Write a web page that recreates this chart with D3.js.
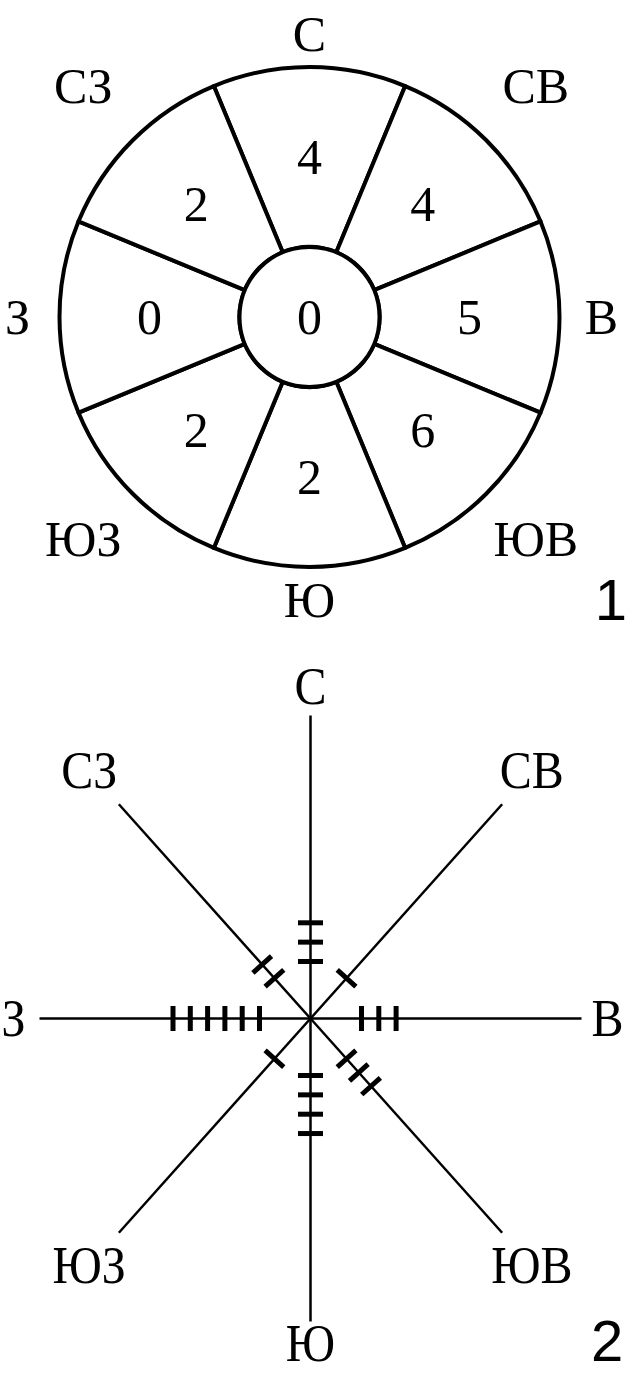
<!DOCTYPE html>
<html>
<head>
<meta charset="utf-8">
<script src="https://cdn.jsdelivr.net/npm/d3@7"></script>
<style>
  body { margin: 0; background: #fff; }
  text { font-family: "Liberation Serif", "DejaVu Serif", serif; fill: #000; }
  .fig-num { font-family: "Liberation Sans", Arial, sans-serif; }
</style>
</head>
<body>
<svg id="chart" width="628" height="1374"></svg>
<script>
// directions, clockwise from north
const directions = ["С", "СВ", "В", "ЮВ", "Ю", "ЮЗ", "З", "СЗ"];
// figure 1: wind rose values per sector, calm in the middle
const roseValues = [4, 4, 5, 6, 2, 2, 0, 2];
const calmValue = 0;
// figure 2: number of ticks on each ray
const tickCounts = [3, 1, 3, 3, 4, 1, 6, 2];
const figureLabels = ["1", "2"];

const W = 628, H = 1374;
const svg = d3.select("#chart");
svg.append("rect").attr("width", W).attr("height", H).attr("fill", "#fff");

let angle = d3.scaleLinear().domain([0, directions.length]).range([0, 2 * Math.PI]);

// ---------- Figure 1 ----------
let c1 = {x: 309.5, y: 317};
let inner = 70, outer = 250;

let g1 = svg.append("g").attr("transform", `translate(${c1.x}, ${c1.y})`);

let pie = d3.pie()
  .value(() => 1)
  .sort(null)
  .startAngle(-Math.PI / 8)
  .endAngle(2 * Math.PI - Math.PI / 8);

let arc = d3.arc().innerRadius(inner).outerRadius(outer);

let sectors = pie(roseValues);

g1.selectAll(".sector")
  .data(sectors)
  .join("path")
  .attr("class", "sector")
  .attr("d", arc)
  .attr("fill", "#fff")
  .attr("stroke", "#000")
  .attr("stroke-width", 4)
  .attr("stroke-linejoin", "round");

g1.append("circle")
  .attr("r", inner)
  .attr("fill", "#fff")
  .attr("stroke", "#000")
  .attr("stroke-width", 4);

g1.append("text")
  .attr("text-anchor", "middle")
  .attr("dy", "0.34em")
  .style("font-size", "50px")
  .text(calmValue);

let labelArc = d3.arc().innerRadius(inner + 20).outerRadius(outer - 20);
g1.selectAll(".val")
  .data(sectors)
  .join("text")
  .attr("class", "val")
  .attr("transform", d => `translate(${labelArc.centroid(d)})`)
  .attr("text-anchor", "middle")
  .attr("dy", "0.34em")
  .style("font-size", "50px")
  .text(d => d.data);

g1.selectAll(".dir")
  .data(directions)
  .join("text")
  .attr("class", "dir")
  .attr("x", (d, i) => Math.sin(angle(i)) * (i % 2 ? 320 : 292))
  .attr("y", (d, i) => i % 2 ? -Math.cos(angle(i)) * 320 - 4 : -Math.cos(angle(i)) * 283)
  .attr("text-anchor", "middle")
  .attr("dy", "0.33em")
  .style("font-size", "50px")
  .text(d => d);

svg.append("text")
  .attr("class", "fig-num")
  .attr("x", 627)
  .attr("y", 620)
  .attr("text-anchor", "end")
  .style("font-size", "58px")
  .text(figureLabels[0]);

// ---------- Figure 2 ----------
let c2 = {x: 310.5, y: 1018.5};
let ky = 1.118;           // the second drawing is a little taller than wide
let rayLength = 271;
let tickR = d3.scaleLinear().domain([1, 6]).range([51, 137.5]);

// point on a ray, in screen coords
function pt(i, r) {
  return [c2.x + Math.sin(angle(i)) * r, c2.y - Math.cos(angle(i)) * r * ky];
}

let g2 = svg.append("g");

g2.selectAll(".ray")
  .data(directions)
  .join("line")
  .attr("class", "ray")
  .attr("x1", c2.x)
  .attr("y1", c2.y)
  .attr("x2", (d, i) => pt(i, rayLength)[0])
  .attr("y2", (d, i) => pt(i, rayLength)[1])
  .attr("stroke", "#000")
  .attr("stroke-width", 2.5);

// ticks across each ray
let ticks = [];
tickCounts.forEach((n, i) => {
  let end = pt(i, rayLength);
  let dx = end[0] - c2.x, dy = end[1] - c2.y;
  let len = Math.hypot(dx, dy);
  let px = -dy / len, py = dx / len;
  d3.range(1, n + 1).forEach(k => {
    let p = pt(i, tickR(k));
    ticks.push({x: p[0], y: p[1], px: px, py: py});
  });
});

let half = 12.5;
g2.selectAll(".tick")
  .data(ticks)
  .join("line")
  .attr("class", "tick")
  .attr("x1", d => d.x - d.px * half)
  .attr("y1", d => d.y - d.py * half)
  .attr("x2", d => d.x + d.px * half)
  .attr("y2", d => d.y + d.py * half)
  .attr("stroke", "#000")
  .attr("stroke-width", 5);

// keep the bottom label inside the page
let maxLabelY = H - 30;
g2.selectAll(".dir2")
  .data(directions)
  .join("text")
  .attr("class", "dir2")
  .attr("transform", (d, i) => {
    let p = pt(i, i % 2 ? 313 : 297);
    return `translate(${p[0]}, ${Math.min(p[1], maxLabelY)}) scale(1, 1.1)`;
  })
  .attr("text-anchor", "middle")
  .attr("dy", "0.33em")
  .style("font-size", "48px")
  .text(d => d);

svg.append("text")
  .attr("class", "fig-num")
  .attr("x", 591)
  .attr("y", 1361)
  .style("font-size", "58px")
  .text(figureLabels[1]);
</script>
</body>
</html>
